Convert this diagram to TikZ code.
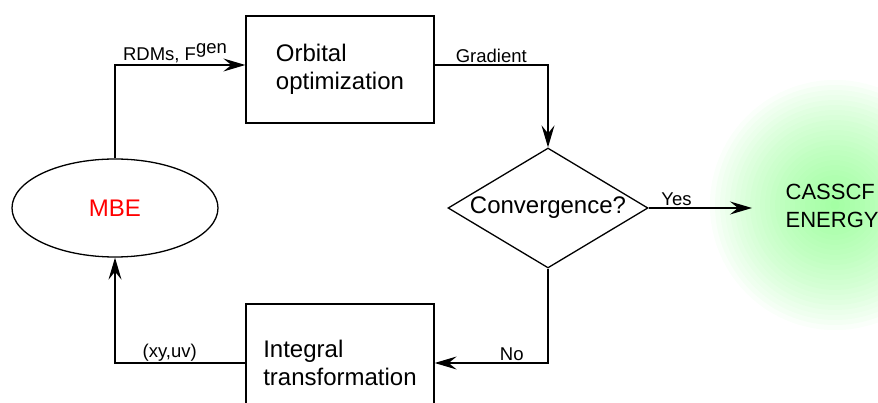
\documentclass[tikz,border=0pt]{standalone}
\usepackage{fontspec}
\setmainfont{Liberation Sans}
\usetikzlibrary{positioning, shapes.geometric, arrows.meta}

\begin{document}
\begin{tikzpicture}[x=1pt, y=-1pt, line width=1.3pt,
  >={Stealth[length=22pt, width=13pt, inset=8pt]},
  stagebox/.style={draw, rectangle, minimum width=188pt, align=left, inner sep=0pt, font=\fontsize{24}{28}\selectfont},
  lbl/.style={above, inner sep=1.5pt, font=\fontsize{18.5}{21}\selectfont}]
\def\bigfont{\fontsize{24}{28}\selectfont}

\useasboundingbox (0,0) rectangle (878,403);

\foreach \r in {125,120,...,5}
  \fill[green!60, opacity=0.035] (835,205) circle (\r);

\node[stagebox, minimum height=107pt] (orbit) at (340,69.5) {Orbital\\optimization};
\node[draw, diamond, aspect=1.67, minimum width=200pt, minimum height=120pt, inner sep=0pt, font=\bigfont] (conv) at (548,208) {Convergence?};
\node[draw, ellipse, minimum width=206pt, minimum height=98pt, text=red, font=\bigfont] (mbe) at (115,208) {MBE};
\node[stagebox, minimum height=118pt] (integ) at (340,363) {Integral\\transformation};
\node[anchor=west, align=left, inner sep=0pt, font=\fontsize{22}{28}\selectfont] (energy) at (785,206) {CASSCF\\ENERGY};
\coordinate (yesend) at ([xshift=-33pt]conv.east -| energy.west);

\draw[->] (mbe.north) |- ([yshift=4.5pt]orbit.west) node[lbl, pos=0.73] {RDMs, F\raisebox{0.4em}{gen}};
\draw[->] ([yshift=4.5pt]orbit.east) -| (conv.north) node[lbl, pos=0.25] {Gradient};
\draw[->] (conv.east) -- (yesend) node[lbl, pos=0.27] {Yes};
\draw[->] (conv.south) |- (integ.east) node[lbl, pos=0.66] {No};
\draw[->] (integ.west) -| (mbe.south) node[lbl, pos=0.29] {(xy,uv)};
\end{tikzpicture}
\end{document}
